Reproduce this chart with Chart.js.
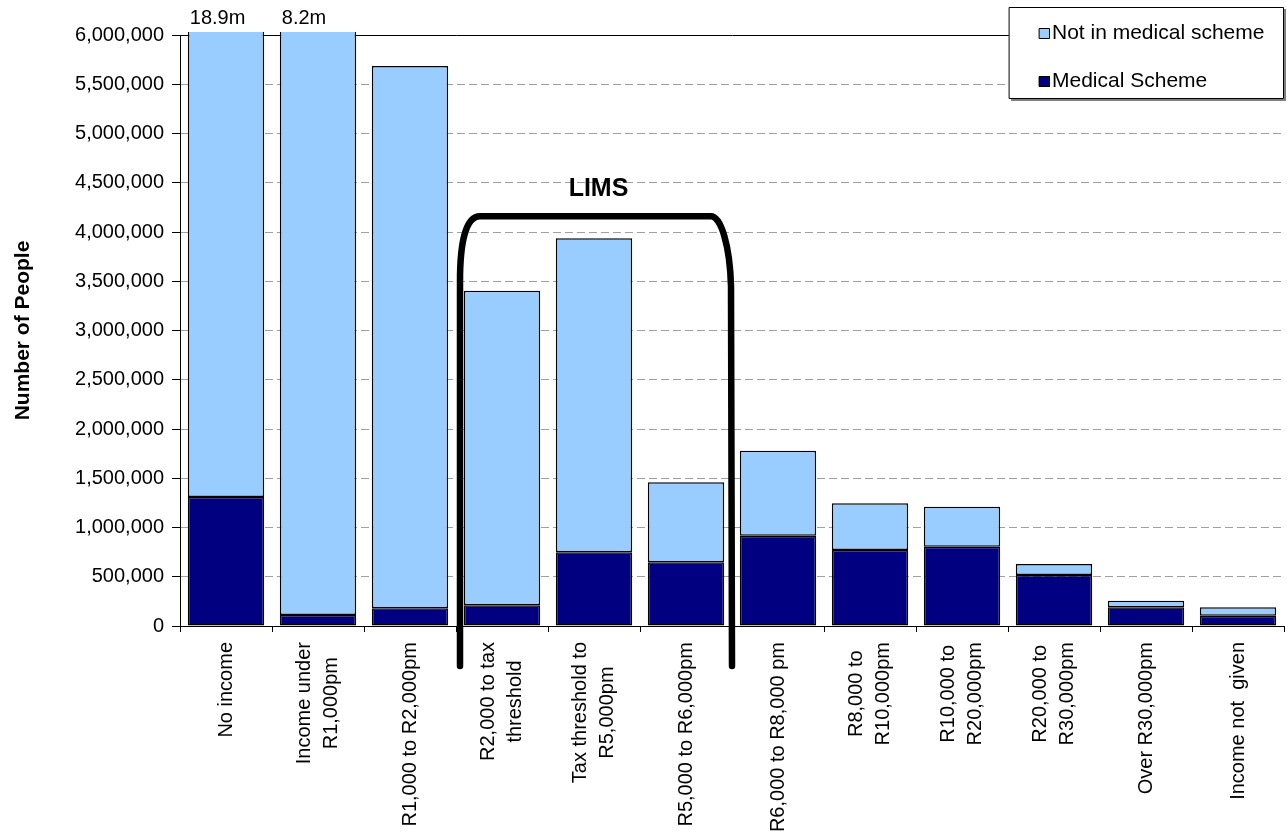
<!DOCTYPE html>
<html>
<head>
<meta charset="utf-8">
<title>Medical scheme membership by income</title>
<script src="https://cdn.jsdelivr.net/npm/chart.js@4.4.1/dist/chart.umd.min.js"></script>
<style>
  body { margin: 0; background: #fff; }
  #wrap { width: 1287px; height: 840px; position: relative; }
</style>
</head>
<body>
<div id="wrap"><canvas id="myChart"></canvas></div>
<script>
// income bands, one array entry per line of the rotated label
const categories = [
  ["No income"],
  ["Income under", "R1,000pm"],
  ["R1,000 to R2,000pm"],
  ["R2,000 to tax", "threshold"],
  ["Tax threshold to", "R5,000pm"],
  ["R5,000 to R6,000pm"],
  ["R6,000 to R8,000 pm"],
  ["R8,000 to", "R10,000pm"],
  ["R10,000 to", "R20,000pm"],
  ["R20,000 to", "R30,000pm"],
  ["Over R30,000pm"],
  ["Income not  given"],
];

// people per band
const medicalScheme = [1310000, 112000, 180000, 210000, 750000, 647000, 917000, 772000, 805000, 518000, 190000, 105000];
const notInScheme = [17590000, 8088000, 5505000, 3194000, 3186000, 812000, 863000, 474000, 406000, 111000, 67000, 85000];

// y axis
const yMax = 6000000;
const yStep = 500000;

// LIMS bracket: spans bands 3..5, top at about 4.16m
const limsFrom = 2.5;
const limsTo = 5.5;
const limsTop = 4160000;

const fontFamily = "'Liberation Sans', Arial, sans-serif";
Chart.defaults.font.family = fontFamily;
Chart.defaults.color = "#000";

const lightBlue = "#99CCFF";
const navy = "#000080";

//extra drawing: overflow labels, LIMS bracket, legend box, x labels
const extras = {
  id: "extras",
  afterDatasetsDraw(chart) {
    const ctx = chart.ctx;
    const x = chart.scales.x;
    const y = chart.scales.y;
    const area = chart.chartArea;
    ctx.save();

    // totals that run off the top of the axis
    ctx.font = "20px " + fontFamily;
    ctx.fillStyle = "#000";
    ctx.textAlign = "left";
    ctx.textBaseline = "alphabetic";
    const topMeta = chart.getDatasetMeta(1);
    categories.forEach((c, i) => {
      const total = medicalScheme[i] + notInScheme[i];
      if (total > yMax) {
        const bar = topMeta.data[i];
        ctx.fillText((total / 1000000).toFixed(1) + "m", bar.x - bar.width / 2 + 2, area.top - 11);
      }
    });

    // LIMS bracket
    const L = x.getPixelForValue(limsFrom) + 4;
    const R = x.getPixelForValue(limsTo) - 1;
    const T = y.getPixelForValue(limsTop);
    const B = y.getPixelForValue(0) + 40;
    ctx.strokeStyle = "#000";
    ctx.lineWidth = 6.5;
    ctx.lineCap = "round";
    ctx.lineJoin = "round";
    ctx.beginPath();
    ctx.moveTo(L, B);
    ctx.lineTo(L, T + 65);
    ctx.bezierCurveTo(L, T + 25, L + 6, T, L + 20, T);
    ctx.lineTo(R - 20, T);
    ctx.bezierCurveTo(R - 10, T, R - 1, T + 30, R, T + 70);
    ctx.lineTo(R + 1, B);
    ctx.stroke();

    ctx.font = "bold 25px " + fontFamily;
    ctx.textAlign = "center";
    ctx.fillText("LIMS", (L + R) / 2 + 3, T - 20);

    // legend box
    const lw = 275, lh = 92;
    const lx = chart.width - 3 - lw;
    const ly = 7;
    ctx.fillStyle = "#808080";
    ctx.fillRect(lx + 2, ly + 2, lw, lh);
    ctx.fillStyle = "#fff";
    ctx.fillRect(lx, ly, lw, lh);
    ctx.lineWidth = 1;
    ctx.strokeStyle = "#000";
    ctx.strokeRect(lx + 0.5, ly + 0.5, lw - 1, lh - 1);

    ctx.font = "21px " + fontFamily;
    ctx.textAlign = "left";
    const items = chart.data.datasets.slice().reverse();
    items.forEach((ds, k) => {
      const sy = ly + 21 + k * 48;
      ctx.fillStyle = ds.backgroundColor;
      ctx.fillRect(lx + 30, sy, 11, 11);
      ctx.strokeRect(lx + 30.5, sy + 0.5, 10, 10);
      ctx.fillStyle = "#000";
      ctx.fillText(ds.label, lx + 43, sy + 11);
    });

    // rotated category labels, lines centred within each block
    ctx.font = "20px " + fontFamily;
    ctx.textAlign = "center";
    ctx.textBaseline = "middle";
    const top = area.bottom + 16;
    const lineH = 27;
    categories.forEach((lines, i) => {
      const cx = x.getPixelForValue(i);
      const blockW = Math.max(...lines.map((s) => ctx.measureText(s).width));
      lines.forEach((s, j) => {
        ctx.save();
        ctx.translate(cx + (j - (lines.length - 1) / 2) * lineH, top);
        ctx.rotate(-Math.PI / 2);
        ctx.fillText(s, -blockW / 2, 0);
        ctx.restore();
      });
    });

    ctx.restore();
  },
};

const data = {
  labels: categories,
  datasets: [
    {
      label: "Medical Scheme",
      data: medicalScheme,
      backgroundColor: navy,
    },
    {
      label: "Not in medical scheme",
      data: notInScheme,
      backgroundColor: lightBlue,
    },
  ],
};

data.datasets.forEach((ds) => {
  ds.borderColor = "#000";
  ds.borderWidth = 1.5;
  ds.borderSkipped = false;
  ds.barPercentage = 0.83;
  ds.categoryPercentage = 1;
  ds.clip = { left: 0, top: 3, right: 0, bottom: 0 };
});

const isSolid = (c) => c.tick && (c.tick.value === yMax || c.tick.value === 0);

const config = {
  type: "bar",
  data: data,
  options: {
    responsive: true,
    maintainAspectRatio: false,
    animation: false,
    layout: { padding: { top: 35, right: 3, left: 0, bottom: 0 } },
    plugins: {
      legend: { display: false },
      tooltip: { enabled: false },
    },
    scales: {
      x: {
        stacked: true,
        ticks: { display: false },
        grid: {
          display: true,
          drawOnChartArea: false,
          drawTicks: true,
          tickLength: 6,
          tickColor: "#000",
          offset: true,
        },
        border: { color: "#000", width: 1 },
        afterFit: (s) => {
          s.height = 214;
        },
      },
      y: {
        stacked: true,
        min: 0,
        max: yMax,
        ticks: {
          stepSize: yStep,
          color: "#000",
          font: { size: 20 },
          padding: 8,
          callback: (v) => v.toLocaleString("en-US"),
        },
        grid: {
          color: (c) => (isSolid(c) ? "#000" : "#a0a0a0"),
          lineWidth: 1,
          tickColor: "#000",
          tickLength: 8,
          tickBorderDash: [],
        },
        border: {
          color: "#000",
          width: 1,
          dash: (c) => (isSolid(c) ? [] : [8, 4]),
        },
        title: {
          display: true,
          text: "Number of People",
          color: "#000",
          font: { size: 21, weight: "bold" },
          padding: { top: 11, bottom: 0 },
        },
        afterFit: (s) => {
          s.width = 180;
        },
      },
    },
  },
  plugins: [extras],
};

const myChart = new Chart(document.getElementById("myChart"), config);
</script>
</body>
</html>
